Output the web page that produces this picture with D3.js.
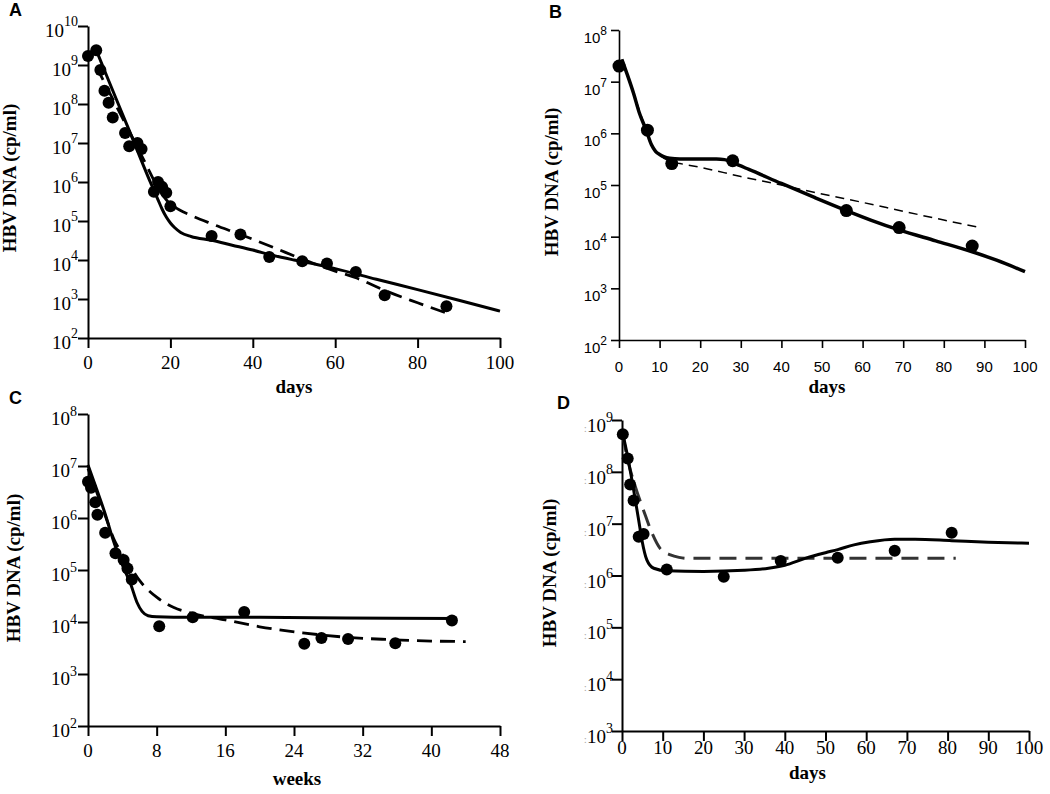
<!DOCTYPE html>
<html>
<head>
<meta charset="utf-8">
<script src="https://cdn.jsdelivr.net/npm/d3@7"></script>
<style>
  html, body { margin: 0; padding: 0; background: #fff; }
  svg { display: block; }
</style>
</head>
<body>
<svg id="chart" width="1050" height="794"></svg>
<script>
// ---------------- DATA ----------------
// Panel A (days)
const aDotDays   = [0, 2, 3, 4, 5, 6, 9, 10, 12, 13, 16, 17, 18, 19, 20, 30, 37, 44, 52, 58, 65, 72, 87];
const aDotValues = [1.7e9, 2.4e9, 7.4e8, 2.2e8, 1.07e8, 4.5e7, 1.8e7, 8.3e6, 1.0e7, 7.0e6, 5.6e5, 1.0e6, 7.5e5, 5.3e5, 2.4e5, 4.1e4, 4.5e4, 1.2e4, 9.3e3, 8.1e3, 4.9e3, 1.25e3, 650];
const aSolidDays   = [2, 5, 10, 15, 17, 18, 19, 20, 21, 22.5, 25, 30, 35, 40, 45, 50, 55, 60, 70, 80, 90, 100];
const aSolidValues = [2.4e9, 4e8, 2.1e7, 1.07e6, 3.5e5, 2e5, 1.26e5, 8.9e4, 6.8e4, 5.1e4, 4e4, 3.2e4, 2.4e4, 1.8e4, 1.3e4, 1e4, 7.9e3, 6e3, 3.2e3, 1.74e3, 930, 490];
const aDashDays   = [2, 6, 10, 14, 17, 19, 21, 25, 30, 37, 45, 52, 60, 65, 72, 80, 88];
const aDashValues = [9.1e8, 1.35e8, 2e7, 2.95e6, 7.1e5, 3.5e5, 2.3e5, 1.4e5, 8.5e4, 4.5e4, 2.1e4, 1.05e4, 5.2e3, 3.5e3, 1.66e3, 800, 400];
const aXTicks = [0, 20, 40, 60, 80, 100];
const aYExps  = [2, 3, 4, 5, 6, 7, 8, 9, 10];

// Panel B (days)
const bDotDays   = [0, 7, 13, 28, 56, 69, 87];
const bDotValues = [2e7, 1.15e6, 2.6e5, 2.95e5, 3.2e4, 1.5e4, 6.6e3];
const bSolidDays   = [0.7, 2, 3.6, 5, 6.7, 8, 9, 10, 11, 12.5, 15, 24, 26, 28, 32, 40, 48, 56, 62, 69, 78, 87, 93, 100];
const bSolidValues = [2.7e7, 1.4e7, 5.9e6, 2.5e6, 1.15e6, 6e5, 4.5e5, 3.9e5, 3.55e5, 3.3e5, 3.2e5, 3.2e5, 3.1e5, 2.7e5, 2e5, 1.07e5, 5.8e4, 3.2e4, 2.1e4, 1.35e4, 8.3e3, 5.1e3, 3.5e3, 2.1e3];
const bDashDays   = [0.7, 3.6, 6.7, 8, 10, 13, 15, 20, 30, 40, 50, 60, 70, 80, 88];
const bDashValues = [2.7e7, 5.9e6, 1.15e6, 6e5, 3.8e5, 2.8e5, 2.6e5, 2.2e5, 1.46e5, 1e5, 6.7e4, 4.6e4, 3.1e4, 2.1e4, 1.55e4];
const bXTicks = [0, 10, 20, 30, 40, 50, 60, 70, 80, 90, 100];
const bYExps  = [2, 3, 4, 5, 6, 7, 8];

// Panel C (weeks)
const cDotWeeks  = [0, 0.35, 0.85, 1.1, 2, 3.2, 4.15, 4.6, 5.1, 8.3, 12.2, 18.2, 25.2, 27.2, 30.3, 35.8, 42.4];
const cDotValues = [5e6, 3.8e6, 2e6, 1.15e6, 5.2e5, 2.1e5, 1.55e5, 1.07e5, 6.6e4, 8.3e3, 1.23e4, 1.55e4, 3.8e3, 4.9e3, 4.7e3, 3.9e3, 1.07e4];
const cSolidWeeks  = [0, 1, 2, 3, 4, 5, 5.7, 6.3, 7, 8, 12, 20, 30, 43];
const cSolidValues = [1.05e7, 3.6e6, 1.2e6, 3.5e5, 1.26e5, 5.2e4, 2.4e4, 1.6e4, 1.32e4, 1.26e4, 1.23e4, 1.23e4, 1.2e4, 1.17e4];
const cDashWeeks  = [0, 1, 2, 3, 4, 5, 6, 8, 10, 12, 16, 20, 25, 30, 35, 40, 44];
const cDashValues = [8.9e6, 3.2e6, 1.12e6, 4e5, 2e5, 1.12e5, 6.3e4, 3e4, 1.9e4, 1.48e4, 1.1e4, 8.1e3, 6.2e3, 5.1e3, 4.6e3, 4.3e3, 4.2e3];
const cXTicks = [0, 8, 16, 24, 32, 40, 48];
const cYExps  = [2, 3, 4, 5, 6, 7, 8];

// Panel D (days)
const dDotDays   = [0.2, 1.4, 2, 2.85, 4.1, 5.3, 11, 25, 39, 53, 67, 81];
const dDotValues = [5.3e8, 1.8e8, 5.7e7, 2.8e7, 5.6e6, 6.3e6, 1.3e6, 9.5e5, 1.9e6, 2.2e6, 3e6, 6.7e6];
const dSolidDays   = [0.2, 1.4, 2.85, 4.1, 4.9, 6.1, 7.8, 11, 20, 30, 36, 40, 45, 50, 53, 57, 61, 67, 72, 81, 90, 100];
const dSolidValues = [5.5e8, 1.95e8, 4.5e7, 1.17e7, 4.8e6, 2e6, 1.38e6, 1.23e6, 1.2e6, 1.26e6, 1.38e6, 1.58e6, 2.14e6, 2.75e6, 3.16e6, 3.9e6, 4.47e6, 5e6, 5e6, 4.7e6, 4.4e6, 4.2e6];
const dDashDays   = [0.2, 1.2, 3.3, 5.3, 7.4, 9.4, 11.9, 14, 16, 82];
const dDashValues = [5.2e8, 2e8, 5.1e7, 1.8e7, 6.5e6, 3.3e6, 2.5e6, 2.24e6, 2.14e6, 2.14e6];
const dXTicks = [0, 10, 20, 30, 40, 50, 60, 70, 80, 90, 100];
const dYExps  = [3, 4, 5, 6, 7, 8, 9];

const yTitle = "HBV DNA (cp/ml)";

// ---------------- DRAWING ----------------
const svg = d3.select("#chart");
const SERIF = "'Liberation Serif','Times New Roman',serif";
const SANS = "'Liberation Sans',Arial,sans-serif";

function zip(xs, ys) { return xs.map((x, i) => ({x, y: ys[i]})); }

function panel(cfg) {
  const x = d3.scaleLinear().domain(cfg.xDomain).range([cfg.x0, cfg.x1]);
  const y = d3.scaleLog().domain(cfg.yDomain).range([cfg.y0, cfg.y1]);
  const g = svg.append("g");

  // axes
  const ax = g.append("g").attr("transform", `translate(0,${cfg.y0})`)
    .call(d3.axisBottom(x).tickValues(cfg.xTicks).tickSize(cfg.tick).tickSizeOuter(0).tickFormat(""));
  const ay = g.append("g").attr("transform", `translate(${cfg.x0},0)`)
    .call(d3.axisLeft(y).tickValues(cfg.yExps.map(e => Math.pow(10, e))).tickSize(cfg.tick).tickSizeOuter(0).tickFormat(""));
  [ax, ay].forEach(a => {
    a.select(".domain").attr("stroke", "#000").attr("stroke-width", cfg.axisW);
    a.selectAll(".tick line").attr("stroke", "#000").attr("stroke-width", cfg.axisW);
  });

  // x tick labels
  g.append("g").selectAll("text").data(cfg.xTicks).join("text")
    .attr("x", d => x(d)).attr("y", cfg.y0 + cfg.xLabOff)
    .attr("text-anchor", "middle")
    .attr("font-family", cfg.tickFont).attr("font-size", cfg.tickSize)
    .text(d => d);

  // y tick labels 10^n
  const yl = g.append("g").selectAll("text").data(cfg.yExps).join("text")
    .attr("x", cfg.yLabX).attr("y", d => y(Math.pow(10, d)) + cfg.yLabOff)
    .attr("text-anchor", "end")
    .attr("font-family", cfg.tickFont).attr("font-size", cfg.tickSize);
  if (cfg.prefix) yl.append("tspan").attr("fill", "#aaa").attr("font-size", cfg.tickSize * 0.6).text(cfg.prefix);
  yl.append("tspan").text("10");
  yl.append("tspan").attr("dy", -cfg.supRaise).attr("font-size", cfg.supSize).text(d => d);

  // titles
  g.append("text")
    .attr("x", (cfg.x0 + cfg.x1) / 2 + (cfg.xTitleShift || 0)).attr("y", cfg.xTitleY)
    .attr("text-anchor", "middle").attr("font-family", SERIF).attr("font-weight", "bold")
    .attr("font-size", cfg.titleSize).text(cfg.xTitle);
  g.append("text")
    .attr("transform", `translate(${cfg.yTitleX},${cfg.yTitleY}) rotate(-90)`)
    .attr("text-anchor", "middle").attr("font-family", SERIF).attr("font-weight", "bold")
    .attr("font-size", cfg.titleSize).text(yTitle);

  // panel letter
  g.append("text").attr("x", cfg.letterX).attr("y", cfg.letterY)
    .attr("font-family", SANS).attr("font-weight", "bold").attr("font-size", 18).text(cfg.letter);

  const line = d3.line().x(d => x(d.x)).y(d => y(d.y)).curve(d3.curveMonotoneX);

  // dashed model
  g.append("path").datum(cfg.dash).attr("d", line)
    .attr("fill", "none").attr("stroke", cfg.dashColor).attr("stroke-width", cfg.dashW)
    .attr("stroke-dasharray", cfg.dashArray);
  // solid model
  g.append("path").datum(cfg.solid).attr("d", line)
    .attr("fill", "none").attr("stroke", "#000").attr("stroke-width", cfg.solidW)
    .attr("stroke-linejoin", "round");
  // dots
  g.append("g").selectAll("circle").data(cfg.dots).join("circle")
    .attr("cx", d => x(d.x)).attr("cy", d => y(d.y)).attr("r", cfg.r).attr("fill", "#000");
}

panel({
  letter: "A", letterX: 9, letterY: 16,
  xDomain: [0, 100], yDomain: [1e2, 1e10], x0: 88, x1: 500, y0: 338, y1: 26,
  xTicks: aXTicks, yExps: aYExps, tick: 10, axisW: 2,
  tickFont: SERIF, tickSize: 19, supSize: 14, supRaise: 11, yLabX: 78, yLabOff: 11, xLabOff: 31,
  xTitle: "days", xTitleY: 393, titleSize: 19, yTitleX: 16, yTitleY: 178,
  dots: zip(aDotDays, aDotValues), solid: zip(aSolidDays, aSolidValues), dash: zip(aDashDays, aDashValues),
  solidW: 3, dashW: 2.8, dashArray: "15,8", dashColor: "#000", r: 6
});

panel({
  letter: "B", letterX: 549, letterY: 18,
  xDomain: [0, 100], yDomain: [1e2, 1e8], x0: 619, x1: 1025, y0: 340, y1: 30,
  xTicks: bXTicks, yExps: bYExps, tick: 8, axisW: 1.6,
  tickFont: SANS, tickSize: 15, supSize: 12, supRaise: 8, yLabX: 607, yLabOff: 13, xLabOff: 32,
  xTitle: "days", xTitleY: 393, xTitleShift: 5, titleSize: 19, yTitleX: 558, yTitleY: 182,
  dots: zip(bDotDays, bDotValues), solid: zip(bSolidDays, bSolidValues), dash: zip(bDashDays, bDashValues),
  solidW: 3.5, dashW: 1.5, dashArray: "9,6", dashColor: "#000", r: 6.5
});

panel({
  letter: "C", letterX: 9, letterY: 404,
  xDomain: [0, 48], yDomain: [1e2, 1e8], x0: 88, x1: 500, y0: 726, y1: 414,
  xTicks: cXTicks, yExps: cYExps, tick: 10, axisW: 2,
  tickFont: SERIF, tickSize: 19, supSize: 14, supRaise: 9, yLabX: 77, yLabOff: 11, xLabOff: 31,
  xTitle: "weeks", xTitleY: 785, xTitleShift: 3, titleSize: 19, yTitleX: 20, yTitleY: 568,
  dots: zip(cDotWeeks, cDotValues), solid: zip(cSolidWeeks, cSolidValues), dash: zip(cDashWeeks, cDashValues),
  solidW: 3, dashW: 2.8, dashArray: "15,8", dashColor: "#000", r: 6
});

panel({
  letter: "D", letterX: 557, letterY: 409,
  xDomain: [0, 100], yDomain: [1e3, 1e9], x0: 622, x1: 1029, y0: 731, y1: 420,
  xTicks: dXTicks, yExps: dYExps, tick: 10, axisW: 2,
  tickFont: SERIF, tickSize: 19, supSize: 14, supRaise: 10, yLabX: 613, yLabOff: 12, xLabOff: 23,
  prefix: ":",
  xTitle: "days", xTitleY: 779, xTitleShift: -18, titleSize: 19, yTitleX: 556, yTitleY: 573,
  dots: zip(dDotDays, dDotValues), solid: zip(dSolidDays, dSolidValues), dash: zip(dDashDays, dDashValues),
  solidW: 3, dashW: 3, dashArray: "17,9", dashColor: "#333", r: 6
});
</script>
</body>
</html>
